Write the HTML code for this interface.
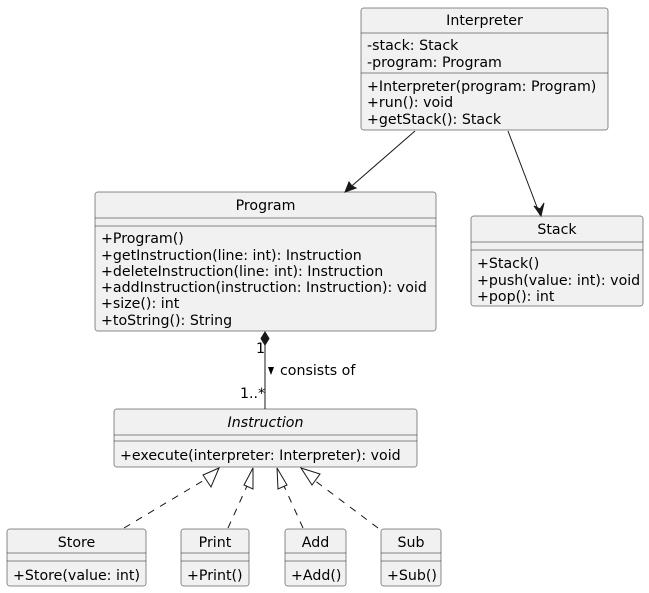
<!DOCTYPE html>
<html><head><meta charset="utf-8"><style>
html,body{margin:0;padding:0;background:#fff;}
svg{display:block;}
text{font-family:"DejaVu Sans","Liberation Sans",sans-serif;font-size:14.2px;fill:#000;}
.b{fill:#F1F1F1;stroke:#181818;stroke-width:0.5;}
.l{stroke:#181818;stroke-width:0.5;}
.c{stroke:#181818;stroke-width:1;fill:none;}
.d{stroke:#181818;stroke-width:1;fill:none;stroke-dasharray:7,7;}
</style></head><body>
<svg width="649" height="593" viewBox="0 0 649 593" xmlns="http://www.w3.org/2000/svg">
<!-- Interpreter -->
<rect class="b" x="361" y="8" width="247" height="122" rx="2.5"/>
<line class="l" x1="361" y1="33" x2="608" y2="33"/>
<line class="l" x1="361" y1="73" x2="608" y2="73"/>
<text x="484.5" y="25" text-anchor="middle">Interpreter</text>
<text x="367" y="50">-stack: Stack</text>
<text x="367" y="67">-program: Program</text>
<text x="367" y="91">+Interpreter(program: Program)</text>
<text x="367" y="107">+run(): void</text>
<text x="367" y="124">+getStack(): Stack</text>
<!-- Program -->
<rect class="b" x="95" y="192" width="341" height="139" rx="2.5"/>
<line class="l" x1="95" y1="218" x2="436" y2="218"/>
<line class="l" x1="95" y1="226" x2="436" y2="226"/>
<text x="265.5" y="210" text-anchor="middle">Program</text>
<text x="101" y="243">+Program()</text>
<text x="101" y="260">+getInstruction(line: int): Instruction</text>
<text x="101" y="276">+deleteInstruction(line: int): Instruction</text>
<text x="101" y="292">+addInstruction(instruction: Instruction): void</text>
<text x="101" y="308">+size(): int</text>
<text x="101" y="325">+toString(): String</text>
<!-- Stack -->
<rect class="b" x="471" y="216" width="172" height="90" rx="2.5"/>
<line class="l" x1="471" y1="242" x2="643" y2="242"/>
<line class="l" x1="471" y1="250" x2="643" y2="250"/>
<text x="557" y="234" text-anchor="middle">Stack</text>
<text x="477" y="268">+Stack()</text>
<text x="477" y="285">+push(value: int): void</text>
<text x="477" y="301">+pop(): int</text>
<!-- Instruction -->
<rect class="b" x="114" y="409" width="303" height="58" rx="2.5"/>
<line class="l" x1="114" y1="435" x2="417" y2="435"/>
<line class="l" x1="114" y1="441" x2="417" y2="441"/>
<text x="265.5" y="427" text-anchor="middle" font-style="italic">Instruction</text>
<text x="120" y="460">+execute(interpreter: Interpreter): void</text>
<!-- Store, Print, Add, Sub -->
<rect class="b" x="7" y="529" width="139" height="57" rx="2.5"/>
<line class="l" x1="7" y1="553" x2="146" y2="553"/>
<line class="l" x1="7" y1="561" x2="146" y2="561"/>
<text x="76.5" y="547" text-anchor="middle">Store</text>
<text x="13" y="580">+Store(value: int)</text>
<rect class="b" x="181" y="529" width="68" height="57" rx="2.5"/>
<line class="l" x1="181" y1="553" x2="249" y2="553"/>
<line class="l" x1="181" y1="561" x2="249" y2="561"/>
<text x="215" y="547" text-anchor="middle">Print</text>
<text x="187" y="580">+Print()</text>
<rect class="b" x="285" y="529" width="61" height="57" rx="2.5"/>
<line class="l" x1="285" y1="553" x2="346" y2="553"/>
<line class="l" x1="285" y1="561" x2="346" y2="561"/>
<text x="315.5" y="547" text-anchor="middle">Add</text>
<text x="291" y="580">+Add()</text>
<rect class="b" x="381" y="529" width="60" height="57" rx="2.5"/>
<line class="l" x1="381" y1="553" x2="441" y2="553"/>
<line class="l" x1="381" y1="561" x2="441" y2="561"/>
<text x="411" y="547" text-anchor="middle">Sub</text>
<text x="387" y="580">+Sub()</text>
<!-- associations -->
<line class="c" x1="415" y1="131" x2="346" y2="191"/>
<path d="M345,192 L349,182 L352,186 L356,188 Z" fill="#181818" stroke="#181818" stroke-width="1"/>
<line class="c" x1="508" y1="131" x2="540" y2="215"/>
<path d="M541,216 L534,206 L540,209 L544,203 Z" fill="#181818" stroke="#181818" stroke-width="1"/>
<!-- composition -->
<line class="c" x1="265" y1="345" x2="265" y2="409"/>
<path d="M265,332 L269,338.5 L265,345 L261,338.5 Z" fill="#181818" stroke="#181818" stroke-width="1"/>
<text x="256" y="353" font-size="12.5">1</text>
<text x="240" y="398" font-size="12.5">1..*</text>
<path d="M268,367 L274,367 L271,375 Z" fill="#000"/>
<text x="280" y="375" font-size="12.5">consists of</text>
<!-- realizations -->
<line class="d" x1="124" y1="528" x2="206" y2="479"/>
<path d="M219,468 L211,487 L203,475 Z" fill="none" stroke="#181818" stroke-width="1"/>
<line class="d" x1="228" y1="528" x2="247" y2="486"/>
<path d="M253,468 L253,489 L244,485 Z" fill="none" stroke="#181818" stroke-width="1"/>
<line class="d" x1="303" y1="528" x2="284" y2="486"/>
<path d="M277,468 L287,485 L278,489 Z" fill="none" stroke="#181818" stroke-width="1"/>
<line class="d" x1="378" y1="528" x2="314" y2="480"/>
<path d="M301,468 L320,474 L312,485 Z" fill="none" stroke="#181818" stroke-width="1"/>
</svg>
</body></html>
